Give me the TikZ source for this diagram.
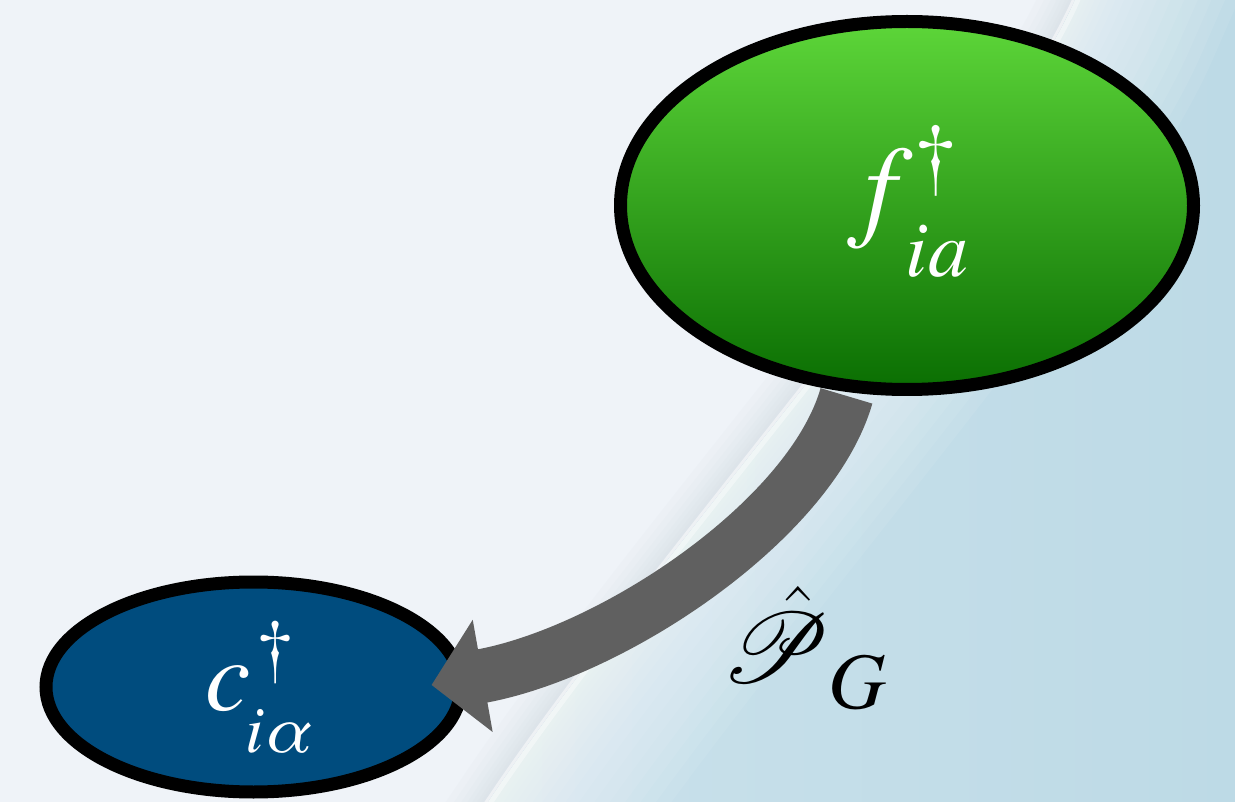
\documentclass[tikz,border=0pt]{standalone}
\usepackage{fontspec}
\newfontfamily\tms{texgyretermes}[Extension=.otf, UprightFont=*-regular, ItalicFont=*-italic, BoldFont=*-bold, BoldItalicFont=*-bolditalic]
\usepackage{mathrsfs}
\usetikzlibrary{shapes.geometric,arrows.meta,calc}
\definecolor{bgl}{HTML}{EFF3F8}
\definecolor{shd}{HTML}{CFDAE1}
\definecolor{rl}{HTML}{CAE1EB}
\definecolor{rr}{HTML}{BDDAE6}
\definecolor{gtop}{HTML}{5DD639}
\definecolor{gbot}{HTML}{0A6E02}
\definecolor{blu}{HTML}{004C7E}
\definecolor{agrey}{HTML}{606060}
\tikzset{
  lbl/.style={inner sep=0pt, anchor=base, text=white},
  ov/.style={ellipse, draw=black, line width=13pt, inner sep=0pt},
  glow/.style={white, opacity=.065},
  shdw/.style={shd, opacity=.09},
}
\begin{document}
\begin{tikzpicture}[x=1pt,y=-1pt]
\useasboundingbox (0,0) rectangle (1235,802);
% background
\fill[bgl] (0,0) rectangle (1235,802);
\begin{scope}
  \clip (0,0) -- (1075,0) .. controls (1000,170) and (650,560) .. (488,802) -- (0,802) -- cycle;
  \foreach \w in {70,56,44,34,26,18,12}
    \draw[shdw, line width=\w pt] (1110,-80) -- (1075,0) .. controls (1000,170) and (650,560) .. (488,802) -- (434,882);
  \draw[white, line width=6pt, opacity=.5] (1110,-80) -- (1075,0) .. controls (1000,170) and (650,560) .. (488,802) -- (434,882);
\end{scope}
\begin{scope}
  \clip (1075,0) .. controls (1000,170) and (650,560) .. (488,802) -- (1235,802) -- (1235,0) -- cycle;
  \shade[left color=rl, right color=rr] (488,0) rectangle (1235,802);
  \foreach \w in {300,275,250,225,200,175,150,128,108,90,74,60,47,36,26,18}
    \draw[glow, line width=\w pt] (1110,-80) -- (1075,0) .. controls (1000,170) and (650,560) .. (488,802) -- (434,882);
  \draw[white, line width=10pt, opacity=.4] (1110,-80) -- (1075,0) .. controls (1000,170) and (650,560) .. (488,802) -- (434,882);
\end{scope}
% nodes
\node[ov, minimum width=415pt, minimum height=210pt, fill=blu] (b) at (253.5,687) {};
\node[ov, minimum width=573pt, minimum height=368pt, top color=gtop, bottom color=gbot] (g) at (907,205.5) {};
% arrow
\coordinate (as) at ([yshift=-4pt]g.-108);
\coordinate (ae) at ([xshift=-36pt,yshift=2pt]b.east);
\draw[line width=54pt, draw=agrey, -{Triangle[width=111pt,length=52pt]}] (as) .. controls +(-36,125) and +(180,-32) .. (ae);
% texts
\node[lbl, font=\tms\fontsize{114}{114}\selectfont\itshape] (fm) at (880,226) {f};
\node[lbl, font=\tms\fontsize{86}{86}\selectfont] (fd) at (936,184) {\textdagger};
\node[lbl, font=\tms\fontsize{80}{80}\selectfont\itshape] (fs) at (937,277) {ia};
\node[lbl, font=\tms\fontsize{102}{102}\selectfont\itshape] (cm) at (228,710) {c};
\node[lbl, font=\tms\fontsize{76}{76}\selectfont] (cd) at (275,672) {\textdagger};
\node[lbl, font=\tms\fontsize{67}{67}\selectfont\itshape] (cs) at (278,752) {iα};
\node[inner sep=0pt, anchor=base] (pl) at (776,682) {\scalebox{4}{\fontsize{25}{25}\selectfont$\hat{\mathscr{P}}$}\rlap{\kern-2pt\raisebox{-26pt}{\tms\fontsize{80}{80}\selectfont\itshape G}}};
\end{tikzpicture}
\end{document}
